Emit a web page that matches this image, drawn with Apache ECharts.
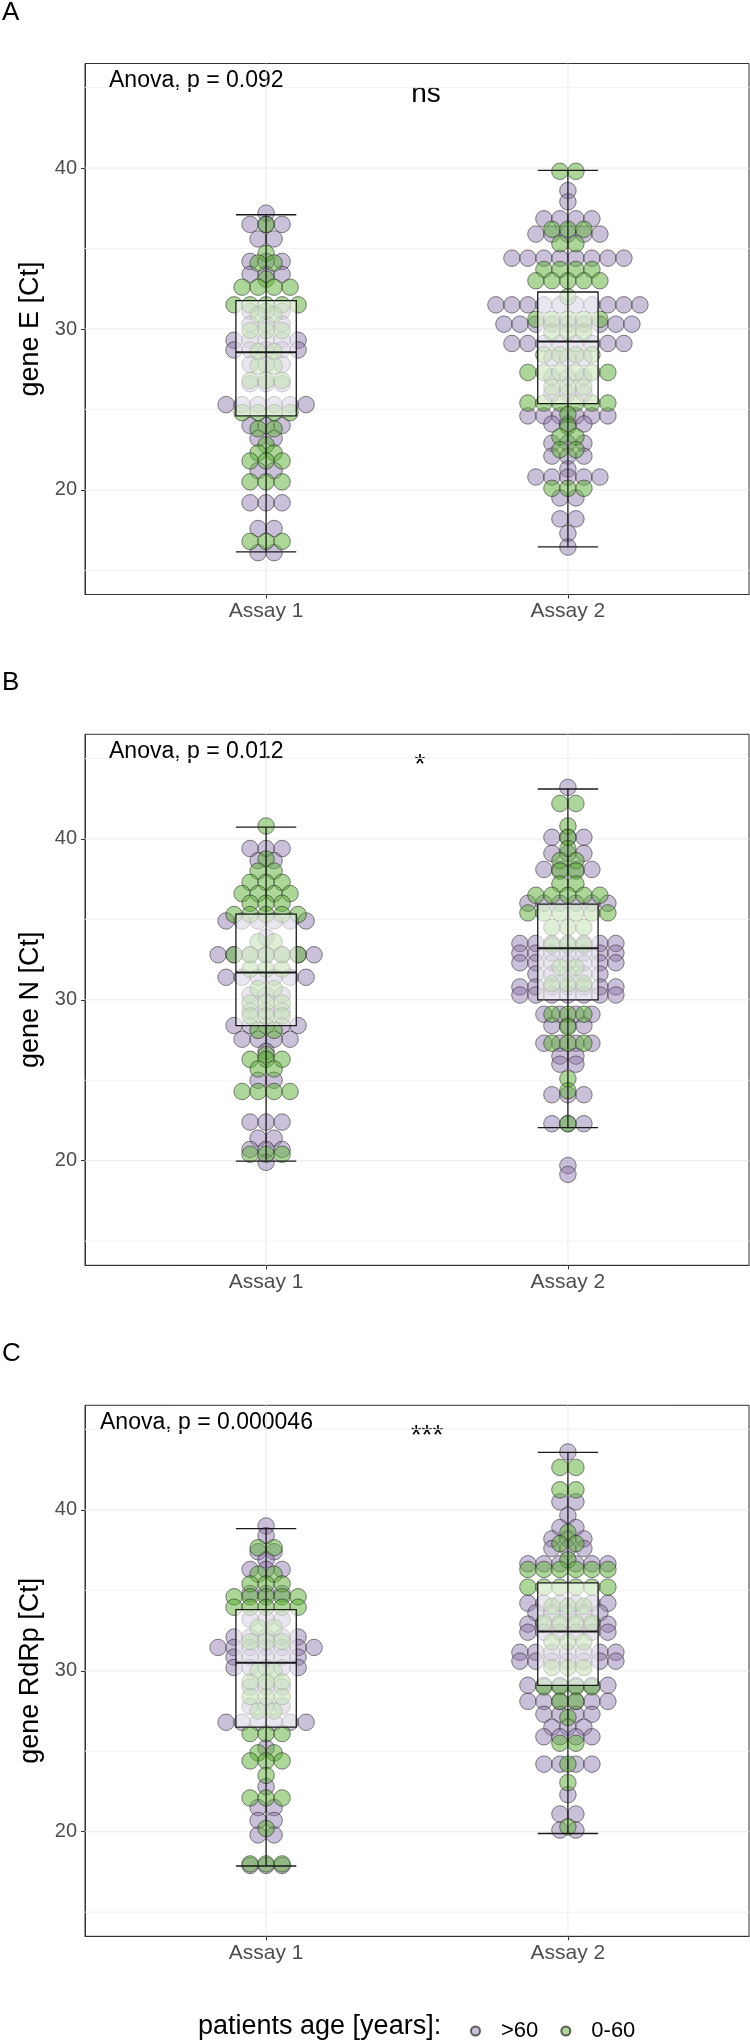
<!DOCTYPE html>
<html>
<head>
<meta charset="utf-8">
<script src="https://cdn.jsdelivr.net/npm/echarts@6/dist/echarts.min.js"></script>
<style>
html,body{margin:0;padding:0;background:#fff;}
#chart{width:750px;height:2044px;}
</style>
</head>
<body>
<div id="chart"></div>
<script>
// ---------------- data ----------------
const categories = ['Assay 1', 'Assay 2'];
const panelLetters = ['A', 'B', 'C'];
const yTitles = ['gene E [Ct]', 'gene N [Ct]', 'gene RdRp [Ct]'];
const anovaLabels = ['Anova, p = 0.092', 'Anova, p = 0.012', 'Anova, p = 0.000046'];
const sigLabels = ['ns', '*', '***'];
const yTickValues = [20, 30, 40];
const gridMinor = [15, 25, 35, 45];
const groupNames = ['>60', '0-60'];

// gene E
const geneE_a1_over60 = [37.2, 36.5, 36.5, 36.5, 35.6, 35.6, 34.2, 34.2, 34.2, 33.4, 33.4, 33.4,
  31.1, 31.1, 31.1, 30.3, 30.3, 30.3, 29.3, 29.3, 29.3, 29.3, 29.3, 28.7, 28.7, 28.7, 28.7, 28.7,
  27.8, 27.8, 27.8, 26.6, 26.6, 26.6, 25.3, 25.3, 25.3, 25.3, 25.3, 25.3, 24.0, 24.0, 24.0,
  23.2, 23.2, 21.2, 21.2, 19.2, 19.2, 19.2, 17.6, 17.6, 16.1, 16.1];
const geneE_a1_under60 = [36.5, 34.7, 34.1, 34.1, 33.1, 32.6, 32.6, 32.6, 32.6, 31.5, 31.5, 31.5, 31.5, 31.5,
  30.9, 30.9, 29.9, 29.9, 29.9, 28.6, 28.6, 27.7, 27.7, 26.8, 26.8, 26.8, 24.8, 24.8, 24.8, 24.8,
  23.8, 23.8, 22.8, 22.3, 22.3, 21.8, 21.8, 21.8, 20.5, 20.5, 20.5, 16.8, 16.8, 16.8];
const geneE_a2_over60 = [38.6, 37.9, 36.85, 36.85, 36.85, 36.85, 35.9, 35.9, 35.9, 35.9, 35.9,
  34.4, 34.4, 34.4, 34.4, 34.4, 34.4, 34.4, 34.4,
  31.5, 31.5, 31.5, 31.5, 31.5, 31.5, 31.5, 31.5, 31.5, 31.5,
  30.3, 30.3, 30.3, 30.3, 30.3, 30.3, 30.3, 30.3, 30.3,
  29.1, 29.1, 29.1, 29.1, 29.1, 29.1, 29.1, 29.1,
  28.2, 28.2, 28.2, 27.0, 27.0, 27.0, 26.0, 26.0, 26.0,
  24.6, 24.6, 24.6, 24.6, 24.6, 24.6, 24.1, 24.1, 24.1, 22.9, 22.9, 22.9, 22.1, 22.1, 22.1,
  21.3, 20.8, 20.8, 20.8, 20.8, 20.8, 19.5, 19.5, 18.2, 18.2, 17.3, 16.45];
const geneE_a2_under60 = [39.8, 39.8, 36.2, 36.2, 36.2, 35.3, 35.3, 33.7, 33.7, 33.7, 33.7,
  33.0, 33.0, 33.0, 33.0, 33.0, 32.0, 30.6, 30.6, 30.6, 30.6, 30.6, 29.8, 29.8, 29.8,
  28.4, 28.4, 28.4, 28.4, 27.3, 27.3, 27.3, 27.3, 27.3, 27.3, 26.4, 26.4, 26.4,
  25.4, 25.4, 25.4, 25.4, 25.4, 25.4, 24.7, 23.95, 23.3, 23.3, 22.5, 22.5, 20.1, 20.1, 20.1];

// gene N
const geneN_a1_over60 = [39.4, 39.4, 39.4, 38.65, 38.65, 34.9, 34.9, 34.9, 34.9, 34.9, 34.9, 33.9,
  32.8, 32.8, 32.8, 32.8, 32.8, 32.8, 32.8, 31.4, 31.4, 31.4, 31.4, 31.4, 31.4,
  30.3, 30.3, 30.3, 29.3, 29.3, 29.3, 28.4, 28.4, 28.4, 28.4, 28.4, 27.55, 27.55, 27.55, 27.55,
  26.8, 25.0, 25.0, 22.4, 22.4, 22.4, 21.4, 21.4, 20.7, 20.7, 20.7, 19.9];
const geneN_a1_under60 = [40.8, 38.75, 38.0, 38.0, 37.3, 37.3, 37.3, 36.6, 36.6, 36.6, 36.6, 36.0, 36.0, 36.0,
  35.3, 35.3, 35.3, 35.3, 35.3, 33.6, 33.6, 32.8, 32.8, 32.8, 32.8, 32.8, 31.9, 31.9, 31.9,
  30.7, 30.7, 29.8, 29.8, 29.8, 29.0, 29.0, 29.0, 28.1, 28.1, 26.6, 26.3, 26.3, 26.3, 25.7, 25.7,
  24.3, 24.3, 24.3, 24.3, 20.4, 20.4, 20.4];
const geneN_a2_over60 = [43.2, 40.1, 40.1, 40.1, 39.1, 39.1, 39.1, 38.1, 38.1, 38.1, 38.1,
  36.0, 36.0, 36.0, 36.0, 36.0, 36.0, 33.5, 33.5, 33.5, 33.5, 33.5, 33.5, 33.5,
  32.9, 32.9, 32.9, 32.9, 32.9, 32.9, 32.9, 32.3, 32.3, 32.3, 32.3, 32.3, 32.3, 32.3,
  31.6, 31.6, 31.6, 31.6, 31.6, 30.8, 30.8, 30.8, 30.8, 30.8, 30.8, 30.8,
  30.3, 30.3, 30.3, 30.3, 30.3, 30.3, 30.3, 29.1, 29.1, 29.1, 29.1, 28.4, 28.4, 28.4,
  27.3, 27.3, 27.3, 27.3, 26.5, 26.5, 26.0, 26.0, 24.1, 24.1, 24.1, 22.3, 22.3, 22.3, 19.7, 19.15];
const geneN_a2_under60 = [42.2, 42.2, 40.8, 40.1, 39.4, 38.65, 38.65, 38.0, 38.0, 37.2, 37.2,
  36.5, 36.5, 36.5, 36.5, 36.5, 35.4, 35.4, 35.4, 35.4, 35.4, 35.4, 34.5, 34.5, 34.5,
  33.4, 33.4, 33.4, 32.0, 32.0, 31.0, 31.0, 31.0, 29.1, 29.1, 29.1, 28.3,
  27.3, 27.3, 27.3, 25.1, 24.35, 22.3];

// gene RdRp
const geneR_a1_over60 = [39.0, 38.4, 37.4, 37.4, 36.9, 36.3, 36.3, 36.3, 34.8, 34.8, 34.8,
  33.2, 33.2, 33.2, 32.1, 32.1, 32.1, 32.1, 32.1, 31.45, 31.45, 31.45, 31.45, 31.45, 31.45, 31.45,
  30.85, 30.85, 30.85, 30.85, 30.85, 30.2, 30.2, 30.2, 30.2, 30.2, 29.0, 29.0, 29.0,
  27.8, 27.8, 27.8, 26.8, 26.8, 26.8, 26.8, 26.8, 26.8, 25.2, 22.8, 21.5, 21.5, 20.7, 20.7,
  19.8, 19.8, 17.9, 17.9, 17.9];
const geneR_a1_under60 = [37.65, 37.65, 36.0, 36.0, 35.4, 35.4, 35.4, 34.6, 34.6, 34.6, 34.6, 34.6,
  33.95, 33.95, 33.95, 33.95, 33.95, 32.7, 32.7, 31.8, 31.8, 31.8, 30.0, 30.0, 29.3, 29.3, 29.3,
  28.4, 28.4, 28.4, 27.5, 27.5, 26.1, 26.1, 26.1, 24.9, 24.9, 24.4, 24.4, 24.4, 23.5,
  22.1, 22.1, 22.1, 20.2, 18.0, 18.0, 18.0];
const geneR_a2_over60 = [43.6, 40.5, 40.5, 39.65, 38.9, 38.9, 38.2, 38.2, 38.2, 37.6, 37.6, 37.6,
  36.65, 36.65, 36.65, 36.65, 36.65, 36.65, 34.2, 34.2, 34.2, 34.2, 34.2, 34.2,
  33.6, 33.6, 33.6, 33.6, 33.6, 32.9, 32.9, 32.9, 32.9, 32.9, 32.9, 32.4, 32.4, 32.4, 32.4, 32.4, 32.4,
  31.15, 31.15, 31.15, 31.15, 31.15, 31.15, 31.15, 30.6, 30.6, 30.6, 30.6, 30.6, 30.6, 30.6,
  29.1, 29.1, 29.1, 29.1, 29.1, 29.1, 28.1, 28.1, 28.1, 28.1, 28.1, 28.1, 27.3, 27.3, 27.3, 27.3,
  26.5, 26.5, 26.5, 25.9, 25.9, 25.9, 25.9, 24.2, 24.2, 24.2, 24.2, 22.3, 21.1, 21.1, 20.1, 20.1];
const geneR_a2_under60 = [42.64, 42.64, 41.25, 41.25, 38.6, 37.9, 37.9, 36.9,
  36.3, 36.3, 36.3, 36.3, 36.3, 36.3, 35.2, 35.2, 35.2, 35.2, 35.2, 35.2, 34.0, 34.0, 34.0,
  33.0, 33.0, 33.0, 33.0, 31.8, 31.8, 31.8, 30.2, 30.2, 30.2, 29.0, 29.0, 29.0, 29.0,
  28.1, 28.1, 27.1, 25.5, 25.5, 24.2, 23.05, 20.3];

// boxplot stats: [min, Q1, median, Q3, max]
const boxE = [[16.15, 24.6, 28.55, 31.76, 37.1], [16.46, 25.36, 29.23, 32.3, 39.86]];
const boxN = [[19.98, 28.4, 31.7, 35.33, 40.73], [22.05, 30.0, 33.2, 35.95, 43.1]];
const boxR = [[17.87, 26.5, 30.5, 33.8, 38.83], [19.89, 29.1, 32.44, 35.47, 43.58]];

// ---------------- layout / style ----------------
const panels = [
  { over: [geneE_a1_over60, geneE_a2_over60], under: [geneE_a1_under60, geneE_a2_under60], box: boxE },
  { over: [geneN_a1_over60, geneN_a2_over60], under: [geneN_a1_under60, geneN_a2_under60], box: boxN },
  { over: [geneR_a1_over60, geneR_a2_over60], under: [geneR_a1_under60, geneR_a2_under60], box: boxR }
];
const FONT = 'Liberation Sans, Arial, sans-serif';
const tops = [63.5, 734.3, 1405.3];
const PANEL_H = 531;
const DOT_STEP = 0.053;   // one dot diameter in x-axis units
const COLORS = { over: 'rgba(140,115,170,0.45)', under: 'rgba(90,175,50,0.5)' };
const SIG_X = [426, 420, 427];
const ANOVA_X = [109, 109, 100];

function swarm(values, cat) {
  const counts = new Map();
  values.forEach(v => counts.set(v, (counts.get(v) || 0) + 1));
  const out = [];
  counts.forEach((n, v) => {
    for (let i = 0; i < n; i++) out.push([cat + (i - (n - 1) / 2) * DOT_STEP, v]);
  });
  return out;
}

const grid = [], xAxis = [], yAxis = [], series = [], graphic = [];

panels.forEach((p, i) => {
  grid.push({ left: 85, width: 664, top: tops[i], height: PANEL_H, show: true,
    borderColor: '#333', borderWidth: 1, backgroundColor: '#fff' });
  xAxis.push({
    gridIndex: i, type: 'value', min: 0.4, max: 2.6,
    splitLine: { show: false },
    axisLine: { show: true, onZero: false, lineStyle: { color: '#333', width: 1 } },
    axisTick: { show: true, customValues: [1, 2], length: 4, lineStyle: { color: '#333' } },
    axisLabel: { customValues: [1, 2], formatter: v => categories[Math.round(v) - 1] || '',
      fontSize: 21, color: '#4d4d4d', fontFamily: FONT, margin: 6 }
  });
  yAxis.push({
    gridIndex: i, type: 'value', min: 13.5, max: 46.5,
    splitLine: { show: false },
    axisLine: { show: true, lineStyle: { color: '#333', width: 1 } },
    axisTick: { show: true, customValues: yTickValues, length: 4, lineStyle: { color: '#333' } },
    axisLabel: { customValues: yTickValues, fontSize: 20, color: '#4d4d4d', fontFamily: FONT, margin: 8 },
    name: yTitles[i], nameLocation: 'middle', nameGap: 37,
    nameTextStyle: { fontSize: 27, color: '#000', fontFamily: FONT }
  });

  // grid lines
  const gl = [];
  gridMinor.forEach(v => gl.push([v, 0]));
  yTickValues.forEach(v => gl.push([v, 1]));
  [1, 2].forEach(v => gl.push([v, 2]));
  series.push({
    type: 'custom', xAxisIndex: i, yAxisIndex: i, z: 1, silent: true,
    data: gl,
    renderItem: (params, api) => {
      const cs = params.coordSys;
      const v = api.value(0), kind = api.value(1);
      if (kind === 2) {
        const x = api.coord([v, 30])[0];
        return { type: 'line', shape: { x1: x, y1: cs.y, x2: x, y2: cs.y + cs.height },
          style: { stroke: '#ebebeb', lineWidth: 1 } };
      }
      const y = api.coord([1, v])[1];
      return { type: 'line', shape: { x1: cs.x, y1: y, x2: cs.x + cs.width, y2: y },
        style: { stroke: kind === 1 ? '#ebebeb' : '#f3f3f3', lineWidth: 1 } };
    }
  });

  // dots
  [['over', 0], ['under', 1]].forEach(([key, gi]) => {
    const data = swarm(p[key][0], 1).concat(swarm(p[key][1], 2));
    series.push({
      type: 'scatter', name: groupNames[gi], xAxisIndex: i, yAxisIndex: i, z: 2 + gi,
      symbol: 'circle', symbolSize: 16.5, data,
      itemStyle: { color: COLORS[key], borderColor: 'rgba(40,40,40,0.72)', borderWidth: 0.8, opacity: 1 },
      emphasis: { disabled: true }
    });
  });

  // boxes
  series.push({
    type: 'custom', xAxisIndex: i, yAxisIndex: i, z: 5, silent: true,
    data: p.box.map((b, k) => [k + 1].concat(b)),
    encode: { x: 0, y: [1, 2, 3, 4, 5] },
    renderItem: (params, api) => {
      const x = api.value(0), hw = 0.1;
      const yy = k => api.coord([x, api.value(k)])[1];
      const cx = api.coord([x, 30])[0];
      const xl = api.coord([x - hw, 30])[0], xr = api.coord([x + hw, 30])[0];
      const yMin = yy(1), yQ1 = yy(2), yMed = yy(3), yQ3 = yy(4), yMax = yy(5);
      const ls = { stroke: '#1a1a1a', lineWidth: 1.3 };
      return { type: 'group', children: [
        { type: 'rect', shape: { x: xl, y: yQ3, width: xr - xl, height: yQ1 - yQ3 },
          style: { fill: 'rgba(255,255,255,0.6)', stroke: '#1a1a1a', lineWidth: 1.3 } },
        { type: 'line', shape: { x1: xl, y1: yMed, x2: xr, y2: yMed }, style: { stroke: '#1a1a1a', lineWidth: 2 } },
        { type: 'line', shape: { x1: cx, y1: yMin, x2: cx, y2: yMax }, style: ls },
        { type: 'line', shape: { x1: xl, y1: yMin, x2: xr, y2: yMin }, style: ls },
        { type: 'line', shape: { x1: xl, y1: yMax, x2: xr, y2: yMax }, style: ls }
      ] };
    }
  });

  // texts
  graphic.push({ type: 'text', left: 2, top: tops[i] - 64,
    style: { text: panelLetters[i], fontSize: 26, fill: '#000', fontFamily: FONT } });
  graphic.push({ type: 'text', x: ANOVA_X[i], y: tops[i] + 17,
    style: { text: anovaLabels[i], fontSize: 23, fill: '#000', fontFamily: FONT, verticalAlign: 'middle', align: 'left' } });
  graphic.push({ type: 'text', x: SIG_X[i], y: tops[i] + 31,
    style: { text: sigLabels[i], fontSize: 28, fill: '#000', fontFamily: FONT, verticalAlign: 'middle', align: 'center' } });
});

graphic.push({ type: 'text', x: 198, y: 2027,
  style: { text: 'patients age [years]:', fontSize: 27, fill: '#000', fontFamily: FONT, verticalAlign: 'middle', align: 'left' } });

const option = {
  animation: false,
  backgroundColor: '#fff',
  grid, xAxis, yAxis, series, graphic,
  legend: {
    data: groupNames, left: 465, top: 2015, orient: 'horizontal',
    icon: 'circle', itemWidth: 9, itemHeight: 9, itemGap: 22,
    textStyle: { fontSize: 22, color: '#000', fontFamily: FONT, padding: [0, 0, 0, 16] },
    selectedMode: false
  }
};

const chart = echarts.init(document.getElementById('chart'), null, { renderer: 'canvas' });
chart.setOption(option);
</script>
</body>
</html>
